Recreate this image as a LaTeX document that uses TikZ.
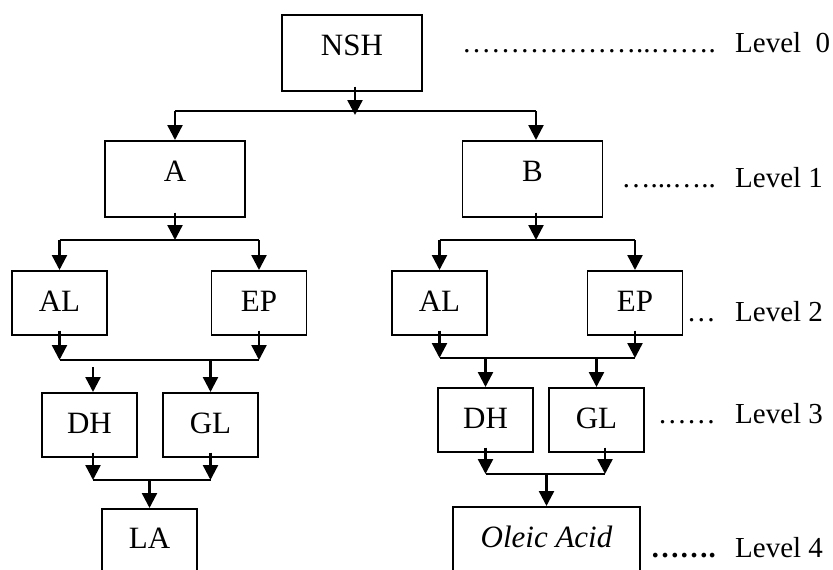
\documentclass[tikz,border=0pt]{standalone}
\usepackage{fontspec}
\setmainfont{Liberation Serif}
\usetikzlibrary{arrows.meta}
\tikzstyle{every picture}=[x=1pt,y=-1pt]
\tikzstyle{kasten}=[draw,line width=1.6pt,anchor=north,inner sep=0pt,text height=41pt,text depth=23pt,minimum width=95pt,font=\fontsize{31}{36}\selectfont]
\tikzstyle{grosskasten}=[kasten,minimum width=140pt,text depth=35pt]
\tikzstyle{linie}=[line width=1.6pt]
\tikzstyle{pfeil}=[-{Triangle[length=15pt,width=15pt]},line width=2.4pt]
\tikzstyle{punkte}=[anchor=base east,inner sep=0pt]
\tikzstyle{stufe}=[anchor=base west,inner sep=0pt]
\newcommand{\el}{…}

\begin{document}
\begin{tikzpicture}[font=\fontsize{29}{34}\selectfont]
			% Rahmen
			\clip (0,0) rectangle (833,570);
			% Kaesten zeichnen
			\node[grosskasten] (nsh) at (352,14) {NSH};
			\node[grosskasten] (a) at (175,140) {A};
			\node[grosskasten] (b) at (532.5,140) {B};
			\node[kasten] (al1) at (59.5,270) {AL};
			\node[kasten] (ep1) at (259,270) {EP};
			\node[kasten] (al2) at (439.5,270) {AL};
			\node[kasten] (ep2) at (635,270) {EP};
			\node[kasten] (dh1) at (89.5,392) {DH};
			\node[kasten] (gl1) at (210.5,392) {GL};
			\node[kasten] (dh2) at (485.5,387) {DH};
			\node[kasten] (gl2) at (596.5,387) {GL};
			\node[kasten,text height=40pt,text depth=40pt] (la) at (149.5,508) {LA};
			\node[kasten,text height=41pt,text depth=40pt,minimum width=187pt] (ol) at (546.5,506) {\textit{Oleic Acid}};
			% Verzweigungen
			\coordinate (j0) at (0,111);
			\coordinate (j1) at (0,240);
			\coordinate (j2l) at (0,360);
			\coordinate (j2r) at (0,358);
			\coordinate (j3l) at (0,480);
			\coordinate (j3r) at (0,474);
			% Pfeile Level 0 -> Level 1
			\draw[pfeil] ([xshift=3pt,yshift=5pt]nsh.south) -- ([xshift=3pt,yshift=-4pt]nsh.south |- j0);
			\draw[linie] (a.north |- j0) -- ([xshift=3.5pt]b.north |- j0);
			\draw[pfeil] (a.north |- j0) -- (a.north);
			\draw[pfeil] ([xshift=3.5pt]b.north |- j0) -- ([xshift=3.5pt]b.north);
			% Pfeile Level 1 -> Level 2
			\draw[pfeil] ([yshift=5pt]a.south) -- (a.south |- j1);
			\draw[pfeil] ([xshift=3.5pt,yshift=5pt]b.south) -- ([xshift=3.5pt]b.south |- j1);
			\draw[linie] (al1.north |- j1) -- (ep1.north |- j1);
			\draw[linie] (al2.north |- j1) -- (ep2.north |- j1);
			\foreach \k in {al1,ep1,al2,ep2}
				\draw[pfeil] (\k.north |- j1) -- (\k.north);
			% Pfeile Level 2 -> Level 3
			\foreach \k in {al1,ep1}
				\draw[pfeil] ([yshift=5pt]\k.south) -- (\k.south |- j2l);
			\foreach \k in {al2,ep2}
				\draw[pfeil] ([yshift=5pt]\k.south) -- (\k.south |- j2r);
			\draw[linie] (al1.south |- j2l) -- (ep1.south |- j2l);
			\draw[linie] (al2.south |- j2r) -- (ep2.south |- j2r);
			\draw[pfeil] ([xshift=3.5pt,yshift=-7pt]dh1.north |- j2l) -- ([xshift=3.5pt]dh1.north);
			\draw[pfeil] (gl1.north |- j2l) -- (gl1.north);
			\draw[pfeil] (dh2.north |- j2r) -- (dh2.north);
			\draw[pfeil] (gl2.north |- j2r) -- (gl2.north);
			% Pfeile Level 3 -> Level 4
			\draw[pfeil] ([xshift=3.5pt,yshift=5pt]dh1.south) -- ([xshift=3.5pt]dh1.south |- j3l);
			\draw[pfeil] ([yshift=5pt]gl1.south) -- (gl1.south |- j3l);
			\draw[linie] ([xshift=3.5pt]dh1.south |- j3l) -- (gl1.south |- j3l);
			\draw[pfeil] (la.north |- j3l) -- (la.north);
			\draw[pfeil] ([yshift=5pt]dh2.south) -- (dh2.south |- j3r);
			\draw[pfeil] ([xshift=8.5pt,yshift=5pt]gl2.south) -- ([xshift=8.5pt]gl2.south |- j3r);
			\draw[linie] (dh2.south |- j3r) -- ([xshift=8.5pt]gl2.south |- j3r);
			\draw[pfeil] (ol.north |- j3r) -- (ol.north);
			% Level beschriften
			\foreach \n/\y/\p/\t in {0/52/{\el\el\el\el\el\el..\el\el.}/{Level~~0},
					1/187/{\el...\el..}/{Level 1},
					2/321/{\el}/{Level 2},
					3/423/{\el\el}/{Level 3},
					4/557/{\textbf{\el\el.}}/{Level 4}}
			{
				\node[punkte] (p\n) at (716,\y) {\p};
				\node[stufe] (l\n) at (735,\y) {\t};
			}
		\end{tikzpicture}
\end{document}
